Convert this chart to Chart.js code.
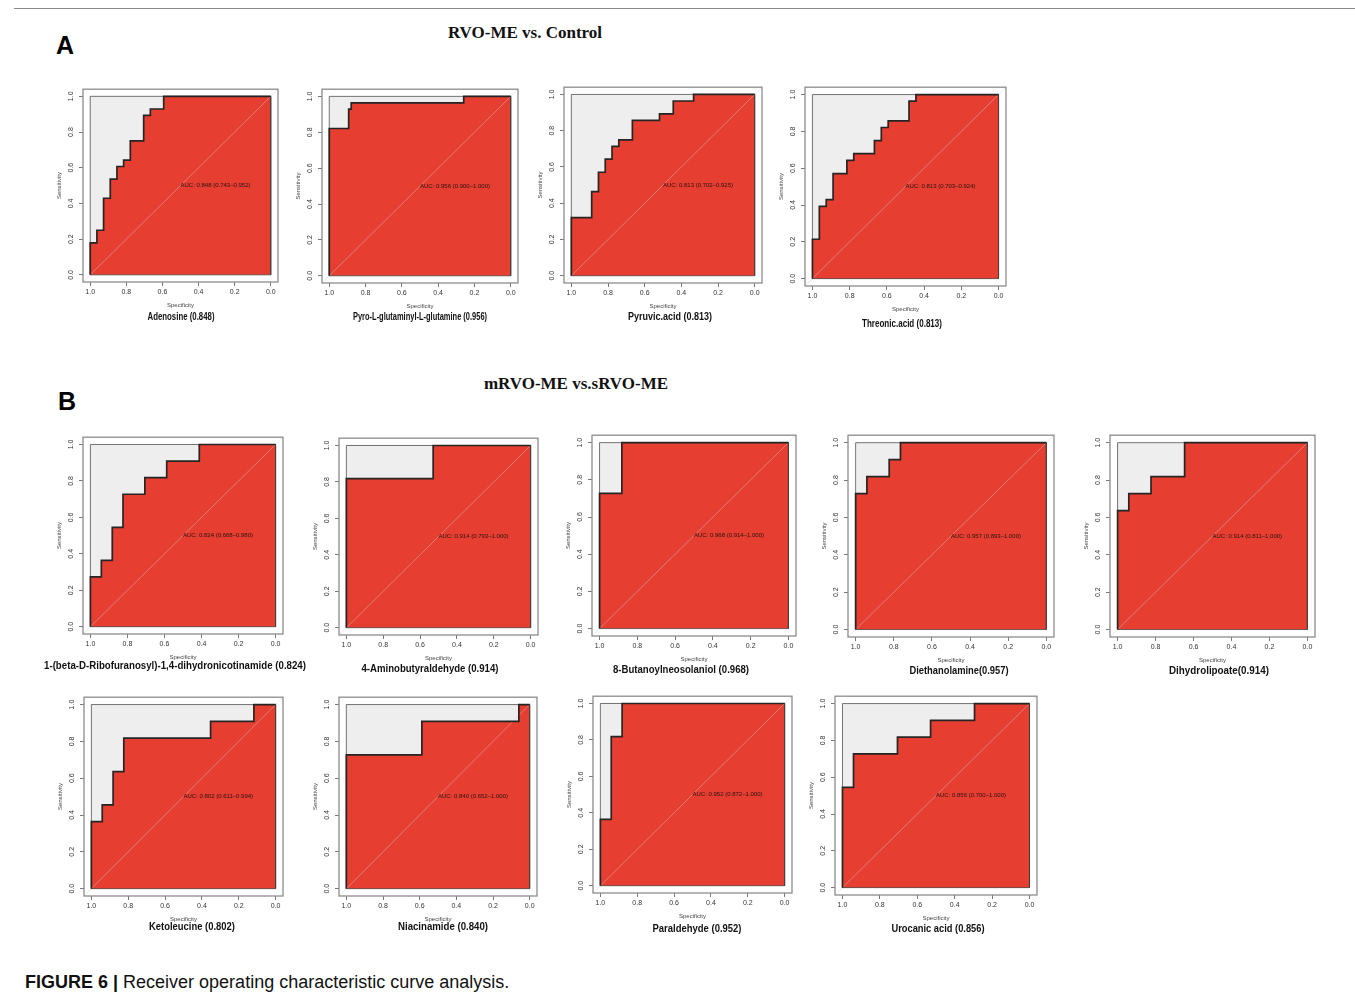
<!DOCTYPE html>
<html>
<head>
<meta charset="utf-8">
<title>ROC curves</title>
<script src="https://cdn.jsdelivr.net/npm/chart.js@4.4.1/dist/chart.umd.min.js"></script>
<style>
  body { margin: 0; background: #fff; }
  #page { position: relative; width: 1355px; height: 999px; overflow: hidden; background: #fff; }
  #page canvas { position: absolute; }
  .lbl { position: absolute; white-space: nowrap; line-height: 1; transform: translate(-50%, -50%); color: #111; }
  .name { font-family: "Liberation Sans", Arial, sans-serif; font-weight: bold; font-size: 10px; }
  .group { font-family: "Liberation Serif", serif; font-weight: bold; font-size: 17px; }
  .letter { font-family: "Liberation Sans", sans-serif; font-weight: bold; font-size: 25px; color: #000; }
  .rule { position: absolute; height: 1px; background: #8a8a8a; }
  .caption { position: absolute; left: 25px; top: 973px; font-family: "Liberation Sans", sans-serif; font-size: 18px; line-height: 18px; color: #111; white-space: nowrap; }
</style>
</head>
<body>
<div id="page">
  <div class="rule" style="left:14px; top:8px; width:1341px;"></div>
  <div class="lbl letter" style="left:65px; top:45px;">A</div>
  <div class="lbl group" style="left:525px; top:32px;">RVO-ME vs. Control</div>
  <div class="lbl letter" style="left:67px; top:401px;">B</div>
  <div class="lbl group" style="left:576px; top:383px;">mRVO-ME vs.sRVO-ME</div>
  <div class="caption"><b>FIGURE 6 |</b> Receiver operating characteristic curve analysis.</div>
</div>
<script>
const tickValues = [0, 0.2, 0.4, 0.6, 0.8, 1.0];

// each curve: specificity break points (1 -> 0) and the sensitivity reached at each of them
const adenosineSpec = [1, 0.963, 0.926, 0.889, 0.852, 0.815, 0.778, 0.704, 0.667, 0.593, 0];
const adenosineSens = [0.179, 0.25, 0.429, 0.536, 0.607, 0.643, 0.75, 0.893, 0.929, 1];

const pyroGlnSpec = [1, 0.893, 0.879, 0.259, 0];
const pyroGlnSens = [0.821, 0.929, 0.964, 1];

const pyruvicSpec = [1, 0.889, 0.852, 0.815, 0.778, 0.741, 0.667, 0.519, 0.444, 0.333, 0];
const pyruvicSens = [0.321, 0.464, 0.571, 0.643, 0.714, 0.75, 0.857, 0.893, 0.964, 1];

const threonicSpec = [1, 0.963, 0.926, 0.889, 0.815, 0.778, 0.667, 0.630, 0.593, 0.481, 0.444, 0];
const threonicSens = [0.214, 0.393, 0.429, 0.571, 0.643, 0.679, 0.75, 0.821, 0.857, 0.964, 1];

const ribofuranosylSpec = [1, 0.941, 0.882, 0.824, 0.706, 0.588, 0.412, 0];
const ribofuranosylSens = [0.273, 0.364, 0.545, 0.727, 0.818, 0.909, 1];

const aminobutSpec = [1, 0.529, 0];
const aminobutSens = [0.818, 1];

const butanoylSpec = [1, 0.882, 0];
const butanoylSens = [0.727, 1];

const diethanolSpec = [1, 0.941, 0.824, 0.765, 0];
const diethanolSens = [0.727, 0.818, 0.909, 1];

const dihydrolipSpec = [1, 0.941, 0.824, 0.647, 0];
const dihydrolipSens = [0.636, 0.727, 0.818, 1];

const ketoleucineSpec = [1, 0.941, 0.882, 0.824, 0.353, 0.118, 0];
const ketoleucineSens = [0.364, 0.455, 0.636, 0.818, 0.909, 1];

const niacinamideSpec = [1, 0.588, 0.059, 0];
const niacinamideSens = [0.727, 0.909, 1];

const paraldehydeSpec = [1, 0.941, 0.882, 0];
const paraldehydeSens = [0.364, 0.818, 1];

const urocanicSpec = [1, 0.941, 0.706, 0.529, 0.294, 0];
const urocanicSens = [0.545, 0.727, 0.818, 0.909, 1];

const panelNames = [
  'Adenosine (0.848)', 'Pyro-L-glutaminyl-L-glutamine (0.956)', 'Pyruvic.acid (0.813)', 'Threonic.acid (0.813)',
  '1-(beta-D-Ribofuranosyl)-1,4-dihydronicotinamide (0.824)', '4-Aminobutyraldehyde (0.914)',
  '8-Butanoylneosolaniol (0.968)', 'Diethanolamine(0.957)', 'Dihydrolipoate(0.914)',
  'Ketoleucine (0.802)', 'Niacinamide (0.840)', 'Paraldehyde (0.952)', 'Urocanic acid (0.856)'
];
const aucLabels = [
  'AUC: 0.848 (0.743\u20130.952)', 'AUC: 0.956 (0.900\u20131.000)', 'AUC: 0.813 (0.702\u20130.925)', 'AUC: 0.813 (0.703\u20130.924)',
  'AUC: 0.824 (0.668\u20130.980)', 'AUC: 0.914 (0.793\u20131.000)', 'AUC: 0.968 (0.914\u20131.000)',
  'AUC: 0.957 (0.893\u20131.000)', 'AUC: 0.914 (0.811\u20131.000)',
  'AUC: 0.802 (0.611\u20130.994)', 'AUC: 0.840 (0.652\u20131.000)', 'AUC: 0.952 (0.872\u20131.000)', 'AUC: 0.856 (0.700\u20131.000)'
];
const curveSpec = [adenosineSpec, pyroGlnSpec, pyruvicSpec, threonicSpec, ribofuranosylSpec, aminobutSpec,
  butanoylSpec, diethanolSpec, dihydrolipSpec, ketoleucineSpec, niacinamideSpec, paraldehydeSpec, urocanicSpec];
const curveSens = [adenosineSens, pyroGlnSens, pyruvicSens, threonicSens, ribofuranosylSens, aminobutSens,
  butanoylSens, diethanolSens, dihydrolipSens, ketoleucineSens, niacinamideSens, paraldehydeSens, urocanicSens];

// page layout: pixel edges of the unit square [left(spec=1), right(spec=0), top(sens=1), bottom(sens=0)],
// centre of the name under each plot and the width that name takes
const frames = [
  { sq: [90, 271, 93.3, 275], name: [181, 317], nameW: 67 },
  { sq: [329.3, 511, 93.3, 275.7], name: [420, 317], nameW: 134 },
  { sq: [571.3, 755, 91.7, 275.7], name: [670, 317], nameW: 84 },
  { sq: [812.3, 999, 91.7, 278.3], name: [902, 323.5], nameW: 80 },
  { sq: [90.7, 275.7, 441.7, 626.3], name: [175, 666], nameW: 262 },
  { sq: [346, 531, 442.3, 627.3], name: [430, 668.5], nameW: 137 },
  { sq: [599.3, 788, 439.7, 628.3], name: [681, 669.5], nameW: 136 },
  { sq: [855.7, 1046.7, 439.3, 629.7], name: [958.5, 671], nameW: 99 },
  { sq: [1117.7, 1307.3, 440, 629.7], name: [1219, 671], nameW: 100 },
  { sq: [91.2, 275.8, 701.8, 888.1], name: [192, 926.5], nameW: 86 },
  { sq: [346.4, 530, 701.8, 888.1], name: [443, 926.5], nameW: 90 },
  { sq: [600, 784.3, 700.7, 885.3], name: [697, 928.5], nameW: 89 },
  { sq: [842.7, 1030, 700.7, 887.7], name: [938, 928.5], nameW: 93 }
];

const EXT = 0.04;          // R-style 4% range extension around [0, 1]
const AXIS_W = 30;         // room for y ticks + title
const AXIS_H = 30;         // room for x ticks + title
const PAD = 4;

function stairs(spec, sens) {
  const pts = [{ x: spec[0], y: 0 }];
  sens.forEach((s, i) => {
    pts.push({ x: spec[i], y: s });
    pts.push({ x: spec[i + 1], y: s });
  });
  return pts;
}

// horizontal squeeze that makes a name span the given width (narrow bold face)
const measure = document.createElement('canvas').getContext('2d');
function squeeze(text, width) {
  measure.font = 'bold 10px "Liberation Sans"';
  return Math.min(1.05, width / measure.measureText(text).width);
}

// plot box and the AUC text
const boxPlugin = {
  id: 'rocBox',
  afterDatasetsDraw(chart, args, opts) {
    const { ctx, chartArea: a, scales: { x, y } } = chart;
    ctx.save();
    ctx.strokeStyle = '#8c8c8c';
    ctx.lineWidth = 1.3;
    ctx.strokeRect(a.left, a.top, a.right - a.left, a.bottom - a.top);
    ctx.fillStyle = '#2a1212';
    ctx.font = '6px "Liberation Sans", sans-serif';
    ctx.textAlign = 'left';
    ctx.textBaseline = 'middle';
    ctx.fillText(opts.text, x.getPixelForValue(0.5), y.getPixelForValue(0.5));
    ctx.restore();
  }
};

function axis(title, vertical) {
  const o = {
    type: 'linear',
    min: -EXT,
    max: 1 + EXT,
    reverse: !vertical,
    afterBuildTicks: s => { s.ticks = tickValues.map(v => ({ value: v })); },
    grid: { display: true, drawOnChartArea: false, drawTicks: true, tickLength: 4, color: '#555', lineWidth: 0.8 },
    border: { display: false },
    ticks: {
      autoSkip: false,
      font: { size: 7, family: 'Liberation Sans' },
      color: '#333',
      padding: vertical ? 3 : 2,
      callback: v => Number(v).toFixed(1)
    },
    title: {
      display: true,
      text: title,
      color: '#444',
      font: { size: 6, family: 'Liberation Sans' },
      padding: vertical ? { top: 3, bottom: 0 } : { top: 0, bottom: 3 }
    }
  };
  if (vertical) {
    o.ticks.minRotation = 90;
    o.ticks.maxRotation = 90;
    o.ticks.crossAlign = 'center';
    o.afterFit = s => { s.width = AXIS_W; };
  } else {
    o.ticks.maxRotation = 0;
    o.afterFit = s => { s.height = AXIS_H; };
  }
  return o;
}

const page = document.getElementById('page');

frames.forEach((f, i) => {
  const [l, r, t, b] = f.sq;
  const sx = (r - l) * EXT, sy = (b - t) * EXT;
  const boxL = l - sx, boxR = r + sx, boxT = t - sy, boxB = b + sy;
  const left = Math.round(boxL - AXIS_W);
  const top = Math.round(boxT - PAD);
  const w = Math.round(boxR) - left + PAD;
  const h = Math.round(boxB) + AXIS_H - top;

  const cv = document.createElement('canvas');
  cv.width = w; cv.height = h;
  cv.style.left = left + 'px'; cv.style.top = top + 'px';
  cv.style.width = w + 'px'; cv.style.height = h + 'px';
  page.appendChild(cv);

  const name = document.createElement('div');
  name.className = 'lbl name';
  name.style.left = f.name[0] + 'px';
  name.style.top = f.name[1] + 'px';
  name.style.transform = 'translate(-50%, -50%) scaleX(' + squeeze(panelNames[i], f.nameW).toFixed(3) + ')';
  name.textContent = panelNames[i];
  page.appendChild(name);

  new Chart(cv, {
    type: 'line',
    data: {
      datasets: [
        { // ROC curve with AUC area
          data: stairs(curveSpec[i], curveSens[i]),
          borderColor: '#252525', borderWidth: 1.7,
          backgroundColor: '#e63e30', fill: { value: 0 },
          pointRadius: 0, tension: 0
        },
        { // outline of the unit square
          data: [{ x: 1, y: 0 }, { x: 1, y: 1 }, { x: 0, y: 1 }, { x: 0, y: 0 }, { x: 1, y: 0 }],
          borderColor: '#3a3a3a', borderWidth: 0.7, fill: false, pointRadius: 0
        },
        { // chance line
          data: [{ x: 1 + EXT, y: -EXT }, { x: -EXT, y: 1 + EXT }],
          borderColor: 'rgba(215,205,205,0.45)', borderWidth: 1, fill: false, pointRadius: 0
        },
        { // max AUC area
          data: [{ x: 1, y: 1 }, { x: 0, y: 1 }],
          borderWidth: 0, backgroundColor: '#eeeeee', fill: { value: 0 }, pointRadius: 0
        }
      ]
    },
    options: {
      responsive: false,
      animation: false,
      devicePixelRatio: 1,
      events: [],
      layout: { padding: { top: PAD, right: PAD, left: 0, bottom: 0 } },
      plugins: {
        legend: { display: false },
        tooltip: { enabled: false },
        filler: { drawTime: 'beforeDatasetsDraw' },
        rocBox: { text: aucLabels[i] }
      },
      scales: {
        x: axis('Specificity', false),
        y: axis('Sensitivity', true)
      }
    },
    plugins: [boxPlugin]
  });
});
</script>
</body>
</html>
